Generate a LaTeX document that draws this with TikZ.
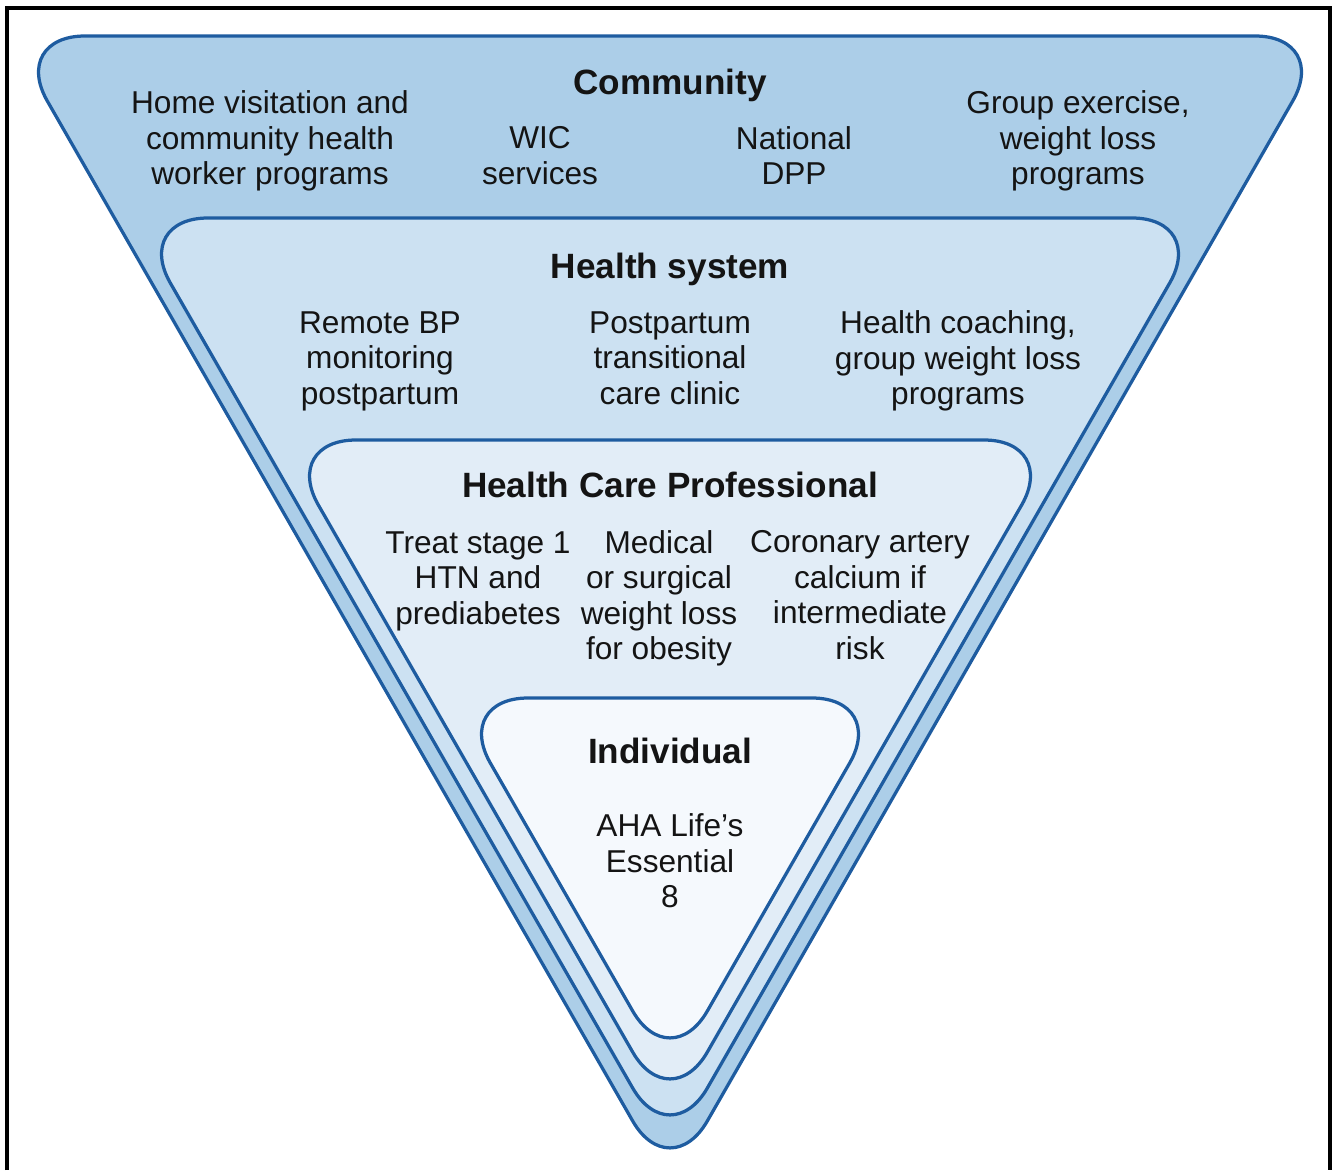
\documentclass[tikz,border=0pt]{standalone}
\usepackage{fontspec}
\setmainfont{Liberation Sans}
\definecolor{edgeblue}{RGB}{30,92,160}
\definecolor{fillA}{RGB}{172,206,232}
\definecolor{fillB}{RGB}{204,225,242}
\definecolor{fillC}{RGB}{226,237,247}
\definecolor{fillD}{RGB}{245,249,253}
\definecolor{inkc}{RGB}{20,20,20}
\begin{document}
\begin{tikzpicture}[x=0.02cm,y=-0.02cm,
  layer/.style={draw=edgeblue, line width=0.065cm, rounded corners=1.5cm},
  frameline/.style={draw=black, line width=0.065cm},
  ttl/.style={font=\fontsize{20}{24}\selectfont\bfseries, inner sep=0, text=inkc,
    execute at begin node=\strut},
  txt/.style={font=\fontsize{18}{20.2}\selectfont, align=center, inner sep=0, text=inkc,
    execute at begin node=\strut, execute at end node=\strut}]
\useasboundingbox (0,0) rectangle (1337,1170);
\fill[white] (0,0) rectangle (1337,1170);
% frame (open at bottom)
\draw[frameline] (7,1170) -- (7,8) -- (1330,8) -- (1330,1170);
% layers
\draw[layer, fill=fillA] (670,36) -- (1330,36) -- (670,1186) -- (10,36) -- cycle;
\draw[layer, fill=fillB] (670,218) -- (1207,218) -- (670,1153) -- (133,218) -- cycle;
\draw[layer, fill=fillC] (670,440) -- (1059,440) -- (670,1117) -- (281,440) -- cycle;
\draw[layer, fill=fillD] (670,698) -- (887,698) -- (670,1076) -- (453,698) -- cycle;
% Community
\node[ttl] (comm) at (670,86) {Community};
\node[txt] (home) at (270,143) {Home visitation and\\community health\\worker programs};
\node[txt] (wic) at (540,161) {WIC\\services};
\node[txt] (dpp) at (794,161) {National\\DPP};
\node[txt] (grp) at (1078,143) {Group exercise,\\weight loss\\programs};
% Health system
\node[ttl] (hs) at (670,270) {Health system};
\node[txt] (rbp) at (380,363) {Remote BP\\monitoring\\postpartum};
\node[txt] (ptc) at (670,363) {Postpartum\\transitional\\care clinic};
\node[txt] (hc) at (958,363) {Health coaching,\\group weight loss\\programs};
% Health care professional
\node[ttl] (hcp) at (670,489) {Health Care Professional};
\node[txt] (trt) at (478,583) {Treat stage 1\\HTN and\\prediabetes};
\node[txt] (med) at (659,600.5) {Medical\\or surgical\\weight loss\\for obesity};
\node[txt] (cac) at (860,600.5) {Coronary artery\\calcium if\\intermediate\\risk};
% Individual
\node[ttl] (ind) at (670,755) {Individual};
\node[txt] (le8) at (670,866) {AHA Life’s\\Essential\\8};
\end{tikzpicture}
\end{document}
